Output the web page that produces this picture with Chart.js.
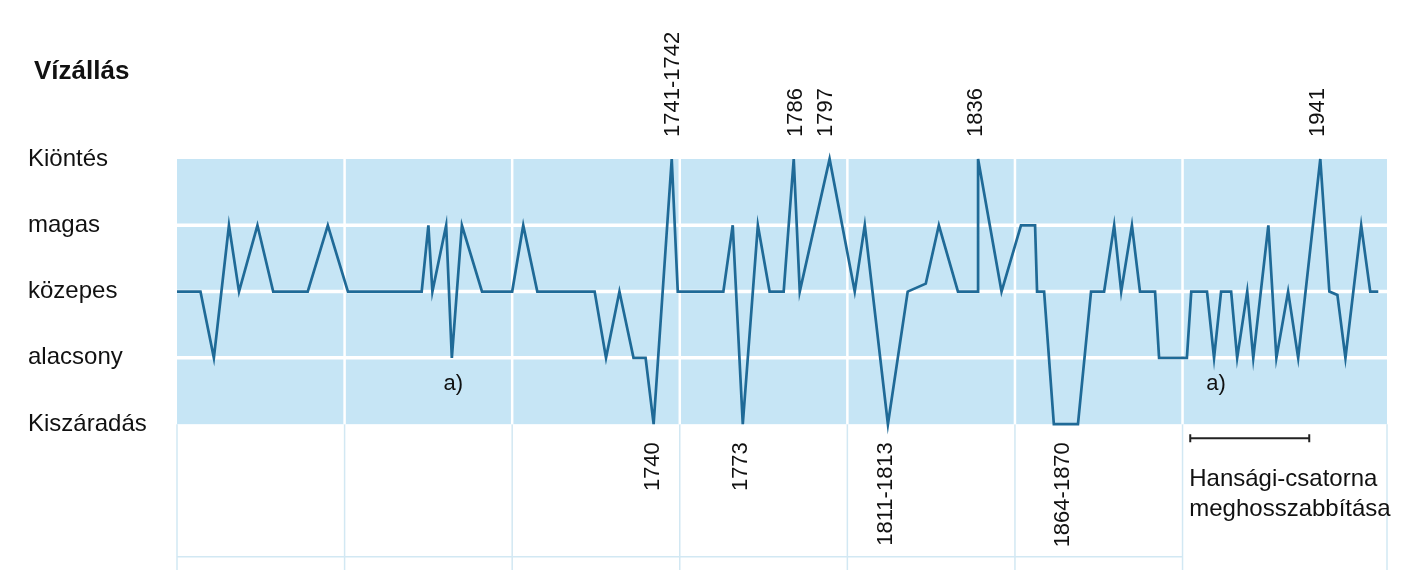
<!DOCTYPE html>
<html>
<head>
<meta charset="utf-8">
<script src="https://cdn.jsdelivr.net/npm/chart.js@4"></script>
<style>
    html, body { margin: 0; padding: 0; background: #fff; }
    #keret { width: 1424px; height: 575px; position: relative; }
</style>
</head>
<body>
<div id="keret"><canvas id="grafikonVizallas"></canvas></div>
<script>
// vízállás szintek (0 = Kiszáradás ... 4 = Kiöntés)
const szintek = ["Kiszáradás", "alacsony", "közepes", "magas", "Kiöntés"];

// a görbe töréspontjai: év (a rajzról leolvasva) és szint
const evek = [
    1600, 1607, 1611, 1615.5, 1618.5, 1624, 1628.7, 1639, 1645, 1651,
    1673, 1675, 1676.2, 1680.3, 1682, 1685, 1691, 1700, 1703.3, 1707.5,
    1724.6, 1728, 1732, 1736.2, 1739.8, 1742.2, 1747.6, 1749.4, 1763, 1765.8,
    1768.8, 1773.3, 1776.8, 1781, 1784, 1785.8, 1794.7, 1802.2, 1805.2, 1812.1,
    1818, 1823.4, 1827.3, 1833, 1839, 1839, 1846, 1851.8, 1856, 1856.6,
    1858.7, 1861.6, 1868.8, 1872.7, 1876.6, 1879.6, 1881.7, 1884.9, 1887.3, 1891.8,
    1893, 1901.3, 1902.6, 1907.3, 1909.4, 1911.5, 1914.5, 1916.3, 1919.3, 1921.1,
    1925.6, 1928, 1931.5, 1934.5, 1941.1, 1943.8, 1946.2, 1948.6, 1953.3, 1956,
    1958.4
];
const vizallas = [
    2, 2, 1, 3, 2, 3, 2, 2, 3, 2,
    2, 3, 2, 3, 1, 3, 2, 2, 3, 2,
    2, 1, 2, 1, 1, 0, 4, 2, 2, 3,
    0, 3, 2, 2, 4, 2, 4, 2, 3, 0,
    2, 2.12, 3, 2, 2, 4, 2, 3, 3, 2,
    2, 0, 0, 2, 2, 3, 2, 3, 2, 2,
    1, 1, 2, 2, 1, 2, 2, 1, 2, 1,
    3, 1, 2, 1, 4, 2, 1.95, 1, 3, 2,
    2
];

// évszám-feliratok a csúcsoknál
const feliratokFent = ["1741-1742", "1786", "1797", "1836", "1941"];
const feliratokFentEv = [1747.9, 1784.6, 1793.6, 1838.4, 1940.5];
const feliratokLent = ["1740", "1773", "1811-1813", "1864-1870"];
const feliratokLentEv = [1741.9, 1768.2, 1811.5, 1864.3];

// "a)" jelölések és a Hansági-csatorna szakasza
const jelolesEv = [1682.4, 1910];
const jelolesSzint = 0.6;
const csatornaEvek = [1902.3, 1937.8];
const csatornaSzoveg = ["Hansági-csatorna", "meghosszabbítása"];

const racsEvek = [1600, 1650, 1700, 1750, 1800, 1850, 1900];

const betu = '"Liberation Sans", Arial, Helvetica, sans-serif';

const hatter = {
    id: "hatter",
    beforeDatasetsDraw(chart) {
        const { ctx, chartArea, scales: { x, y } } = chart;
        const bal = x.getPixelForValue(x.min);
        const jobb = x.getPixelForValue(x.max);
        const fent = y.getPixelForValue(4);
        const lent = y.getPixelForValue(0);

        ctx.save();
        // halvány rács a sáv alatt
        ctx.strokeStyle = "#d2e8f3";
        ctx.lineWidth = 1.5;
        for (const ev of [...racsEvek, x.max]) {
            const px = x.getPixelForValue(ev);
            ctx.beginPath();
            ctx.moveTo(px, lent);
            ctx.lineTo(px, chartArea.bottom);
            ctx.stroke();
        }
        const alja = y.getPixelForValue(-2);
        ctx.beginPath();
        ctx.moveTo(bal, alja);
        ctx.lineTo(x.getPixelForValue(1900), alja);
        ctx.stroke();

        // kék sáv
        ctx.fillStyle = "#c6e5f5";
        ctx.fillRect(bal, fent, jobb - bal, lent - fent);

        // fehér vonalak a sávban
        ctx.strokeStyle = "#ffffff";
        ctx.lineWidth = 3.5;
        for (const s of [1, 2, 3]) {
            const py = y.getPixelForValue(s);
            ctx.beginPath();
            ctx.moveTo(bal, py);
            ctx.lineTo(jobb, py);
            ctx.stroke();
        }
        ctx.lineWidth = 2.5;
        for (const ev of racsEvek.slice(1)) {
            const px = x.getPixelForValue(ev);
            ctx.beginPath();
            ctx.moveTo(px, fent);
            ctx.lineTo(px, lent);
            ctx.stroke();
        }
        ctx.restore();
    },
    afterDatasetsDraw(chart) {
        const { ctx, chartArea, scales: { x, y } } = chart;
        ctx.save();
        ctx.fillStyle = "#111";

        // cím
        ctx.font = "bold 26px " + betu;
        ctx.textAlign = "left";
        ctx.textBaseline = "middle";
        ctx.fillText("Vízállás", 34, 72);

        // függőleges évszámok
        ctx.font = "22px " + betu;
        feliratokFent.forEach((t, i) => {
            ctx.save();
            ctx.translate(x.getPixelForValue(feliratokFentEv[i]), chartArea.top - 22);
            ctx.rotate(-Math.PI / 2);
            ctx.textAlign = "left";
            ctx.textBaseline = "middle";
            ctx.fillText(t, 0, 0);
            ctx.restore();
        });
        feliratokLent.forEach((t, i) => {
            ctx.save();
            ctx.translate(x.getPixelForValue(feliratokLentEv[i]), y.getPixelForValue(0) + 18);
            ctx.rotate(-Math.PI / 2);
            ctx.textAlign = "right";
            ctx.textBaseline = "middle";
            ctx.fillText(t, 0, 0);
            ctx.restore();
        });

        // a) jelölések
        ctx.font = "22px " + betu;
        ctx.textAlign = "center";
        ctx.textBaseline = "middle";
        jelolesEv.forEach(ev => {
            ctx.fillText("a)", x.getPixelForValue(ev), y.getPixelForValue(jelolesSzint));
        });

        // csatorna szakasz
        const x1 = x.getPixelForValue(csatornaEvek[0]);
        const x2 = x.getPixelForValue(csatornaEvek[1]);
        const py = y.getPixelForValue(0) + 14;
        ctx.strokeStyle = "#222";
        ctx.lineWidth = 2;
        ctx.beginPath();
        ctx.moveTo(x1, py); ctx.lineTo(x2, py);
        ctx.moveTo(x1, py - 4); ctx.lineTo(x1, py + 4);
        ctx.moveTo(x2, py - 4); ctx.lineTo(x2, py + 4);
        ctx.stroke();

        ctx.font = "24px " + betu;
        ctx.textAlign = "left";
        ctx.textBaseline = "alphabetic";
        csatornaSzoveg.forEach((t, i) => {
            ctx.fillText(t, x1 - 1, py + 48 + i * 30);
        });
        ctx.restore();
    }
};

new Chart(document.getElementById("grafikonVizallas"), {
    type: "line",
    data: {
        datasets: [{
            data: evek.map((ev, i) => ({ x: ev, y: vizallas[i] })),
            borderColor: "#1f6a97",
            borderWidth: 2.7,
            pointRadius: 0,
            tension: 0,
            clip: false
        }]
    },
    options: {
        responsive: true,
        maintainAspectRatio: false,
        animation: false,
        devicePixelRatio: 1,
        layout: { padding: { top: 159, bottom: 5, left: 28, right: 37 } },
        plugins: { legend: { display: false }, tooltip: { enabled: false } },
        scales: {
            x: { type: "linear", min: 1600, max: 1961, display: false },
            y: {
                type: "linear",
                min: -2.2,
                max: 4,
                afterBuildTicks: s => { s.ticks = szintek.map((_, i) => ({ value: i })); },
                afterFit: s => { s.width = 149; s.paddingTop = 0; s.paddingBottom = 0; },
                grid: { display: false },
                border: { display: false },
                ticks: {
                    crossAlign: "far",
                    color: "#111",
                    font: { size: 24, family: betu },
                    callback: v => szintek[v]
                }
            }
        }
    },
    plugins: [hatter]
});
</script>
</body>
</html>
